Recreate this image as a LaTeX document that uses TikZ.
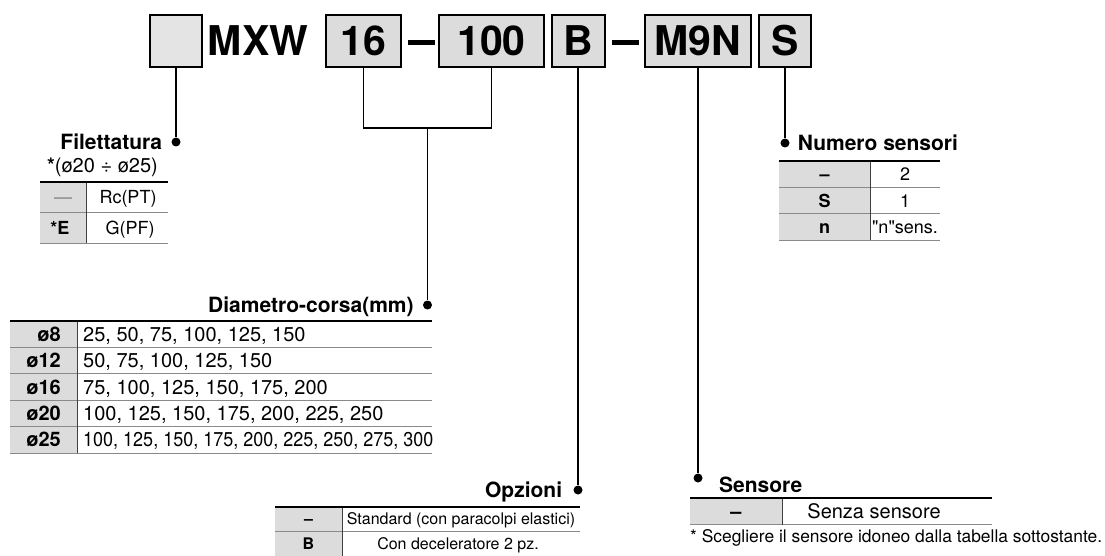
\documentclass[tikz,border=0pt]{standalone}
\usepackage{fontspec}
\setmainfont{TeX Gyre Heros}[Ligatures=TeXOff]
\usepackage{graphicx}
\usepackage{xcolor}
\usepackage{tikz}
\usetikzlibrary{positioning}
\definecolor{cellgray}{HTML}{DCDCDC}
\definecolor{blankgray}{HTML}{E4E4E4}
\definecolor{rulegray}{HTML}{8A8A8A}
\newcommand{\fsz}[1]{\fontsize{#1}{#1}\selectfont}
\tikzset{
  codebox/.style={draw=black, line width=2pt, fill=cellgray, minimum height=52pt, inner sep=0pt, font=\fsz{41}\bfseries},
  sepbar/.style={fill=black, minimum width=27pt, minimum height=5pt, inner sep=0pt},
  pin/.style={circle, fill=black, minimum size=9pt, inner sep=0pt},
  lead/.style={line width=1.8pt},
  ttl/.style={inner sep=0pt, text height=15pt, text depth=0pt, font=\fsz{21}\bfseries},
  head/.style={line width=2pt},
  rowl/.style={line width=0.9pt, rulegray},
  colsep/.style={line width=1pt, black!75},
  cell/.style={inner sep=0pt, text height=13pt, text depth=0pt, font=\fsz{18}},
  kcell/.style={cell, font=\fsz{18}\bfseries},
}

\begin{document}
\begin{tikzpicture}[x=1pt, y=-1pt]
  \useasboundingbox (0,0) rectangle (1105,556);
  \node[codebox, fill=blankgray, minimum width=52pt] (bBlank) at (176,41) {};
  \node[font=\fsz{41}\bfseries, inner sep=0pt] (tMXW) at (258,41) {MXW};
  \node[codebox, minimum width=75pt] (b16) at (363.5,41) {16};
  \node[sepbar] (bar1) at (421,42.5) {};
  \node[codebox, minimum width=105pt] (b100) at (491.5,41) {100};
  \node[codebox, minimum width=53pt] (bB) at (578,41) {B};
  \node[sepbar] (bar2) at (625,42.5) {};
  \node[codebox, minimum width=106pt] (bM9N) at (698,41) {M9N};
  \node[codebox, minimum width=52pt] (bS) at (785,41) {S};

  \node[pin] (pFil) at (176,142) {};
  \node[ttl, left=9pt of pFil] (lFil) {Filettatura};
  \node[inner sep=0pt, font=\fsz{20}, anchor=east] (nFil) at (158,167) {\textbf{*}(ø20 ÷ ø25)};
  \node[pin] (pNum) at (785,143) {};
  \node[ttl, right=8pt of pNum] (lNum) {Numero sensori};
  \node[pin] (pDia) at (427.5,305) {};
  \node[ttl, left=9pt of pDia] (lDia) {Diametro-corsa(mm)};
  \node[pin] (pOpz) at (578,490) {};
  \node[ttl, left=11pt of pOpz] (lOpz) {Opzioni};
  \node[pin] (pSen) at (698,478) {};
  \node[ttl, anchor=west] (lSen) at (719,485) {Sensore};

  \coordinate (jn) at (427.5,128);
  \draw[lead] (bBlank.south) -- (pFil);
  \draw[lead] (b16.south) |- (jn) -| (b100.south);
  \draw[lead] (jn) -- (pDia);
  \draw[lead] (bB.south) -- (pOpz);
  \draw[lead] (bM9N.south) -- (pSen);
  \draw[lead] (bS.south) -- (pNum);

  \fill[cellgray] (40,182) rectangle (86,243);
  \draw[rowl] (40,212.5) -- (168,212.5) (40,243) -- (168,243);
  \draw[colsep] (86,182) -- (86,243);
  \draw[head] (40,182) -- (168,182);
  \node[cell, gray] (fk1) at (63,197.5) {—};
  \node[cell] (fv1) at (128,197.5) {Rc(PT)};
  \node[kcell] (fk2) at (60,228) {*E};
  \node[cell] (fv2) at (130,228) {G(PF)};

  \fill[cellgray] (779,161) rectangle (870,240);
  \draw[rowl] (779,187.3) -- (940,187.3) (779,213.6) -- (940,213.6) (779,240) -- (940,240);
  \draw[colsep] (870,161) -- (870,240);
  \draw[head] (779,161) -- (940,161);
  \foreach \k/\v [count=\i] in {–/2, S/1, n/{"n"sens.}}
    \node[kcell] (nk\i) at (824.5,{148+26.3*\i}) {\k} node[cell] (nv\i) at (905,{148+26.3*\i}) {\v};

  \fill[cellgray] (10,321) rectangle (77,453);
  \foreach \i in {1,...,5} \draw[rowl] (10,{321+26.4*\i}) -- (432,{321+26.4*\i});
  \draw[colsep] (77,321) -- (77,453);
  \draw[head] (10,321) -- (432,321);
  \foreach \k/\v [count=\i] in {ø8/{25, 50, 75, 100, 125, 150}, ø12/{50, 75, 100, 125, 150},
      ø16/{75, 100, 125, 150, 175, 200}, ø20/{100, 125, 150, 175, 200, 225, 250},
      ø25/{\scalebox{0.9}[1]{100, 125, 150, 175, 200, 225, 250, 275, 300}}}
    \node[kcell, text height=14pt, font=\fsz{20}\bfseries, anchor=east] (dk\i) at (61,{307.8+26.4*\i}) {\k}
      node[cell, text height=14pt, font=\fsz{20}, anchor=west] (dv\i) at (83,{307.8+26.4*\i}) {\v};

  \fill[cellgray] (275,507) rectangle (342,556);
  \draw[rowl] (275,531.5) -- (580,531.5);
  \draw[colsep] (342,507) -- (342,556);
  \draw[head] (275,507) -- (580,507);
  \node[kcell, text height=11.5pt, font=\fsz{16}\bfseries] (ok1) at (308.5,519.2) {–};
  \node[cell, text height=11.5pt, font=\fsz{16}] (ov1) at (461,519.2) {Standard (con paracolpi elastici)};
  \node[kcell, text height=11.5pt, font=\fsz{16}\bfseries] (ok2) at (308.5,544) {B};
  \node[cell, text height=11.5pt, font=\fsz{16}] (ov2) at (458,544) {Con deceleratore 2 pz.};

  \fill[cellgray] (690,498) rectangle (782,524.5);
  \draw[rowl] (690,524.5) -- (992,524.5);
  \draw[colsep] (782,498) -- (782,524.5);
  \draw[head] (690,498) -- (992,498);
  \node[kcell, text height=14pt, font=\fsz{20}\bfseries] (sk1) at (736,511) {–};
  \node[cell, text height=14pt, font=\fsz{20}] (sv1) at (874,511) {Senza sensore};
  \node[inner sep=0pt, font=\fsz{17.4}, anchor=west] (nSen) at (690,538) {* Scegliere il sensore idoneo dalla tabella sottostante.};
\end{tikzpicture}
\end{document}
